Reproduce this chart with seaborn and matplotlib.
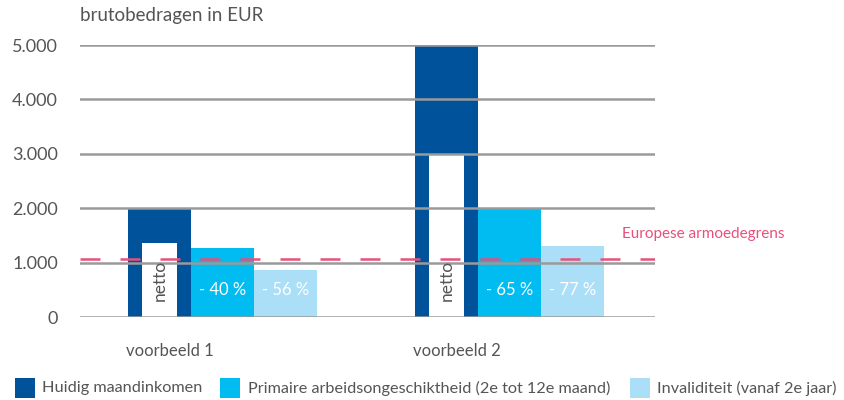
import pandas as pd
import matplotlib
matplotlib.use("Agg")
import matplotlib.pyplot as plt
from matplotlib.patches import Rectangle
import seaborn as sns

# Chart values
groups = ["voorbeeld 1", "voorbeeld 2"]
series = [
    "Huidig maandinkomen",
    "Primaire arbeidsongeschiktheid (2e tot 12e maand)",
    "Invaliditeit (vanaf 2e jaar)",
]
current_income = [2000, 5000]
primary_incap = [1270, 2000]
invalidity = [870, 1300]
netto = [1360, 2970]
primary_labels = ["- 40 %", "- 65 %"]
invalidity_labels = ["- 56 %", "- 77 %"]
poverty_line = 1070
yticks = [0, 1000, 2000, 3000, 4000, 5000]
ytick_labels = ["0", "1.000", "2.000", "3.000", "4.000", "5.000"]

colors = ["#00529b", "#00bcf0", "#aadff7"]
pink = "#e8507a"
grey_text = "#555555"

sns.set_style("white")
plt.rcParams["font.family"] = ["Lato", "DejaVu Sans"]

# Build a long table for seaborn
rows = []
for i, g in enumerate(groups):
    for s, vals in zip(series, [current_income, primary_incap, invalidity]):
        rows.append({"voorbeeld": g, "type": s, "bedrag": vals[i]})
df = pd.DataFrame(rows)

W, H = 845, 400
fig = plt.figure(figsize=(W / 100, H / 100), dpi=100)
ax = fig.add_axes([80 / W, 83 / H, 575 / W, 272 / H])

bar_w = 0.66
sns.barplot(data=df, x="voorbeeld", y="bedrag", hue="type", hue_order=series,
            palette=colors, width=bar_w, saturation=1, legend=False, ax=ax)
for p in ax.patches:
    p.set_edgecolor("none")

one = bar_w / 3
# white "netto" bars inside the current income bars
ax.bar([i - one for i in range(len(groups))], netto, width=0.122,
       color="white", edgecolor="none", zorder=1.5)
for i in range(len(groups)):
    ax.text(i - one, 680, "netto", rotation=90, ha="center", va="center",
            color=grey_text, fontsize=12.5, zorder=4)
    ax.text(i, 500, primary_labels[i], ha="center", va="center",
            color="white", fontsize=12, zorder=4)
    ax.text(i + one, 500, invalidity_labels[i], ha="center", va="center",
            color="white", fontsize=12, zorder=4)

# poverty line
ax.axhline(poverty_line, color=pink, lw=1.8, dashes=(8, 8), zorder=3.5)
ax.text(1.392, 1525, "Europese armoedegrens", color=pink, fontsize=11,
        ha="left", va="center", clip_on=False)

ax.set_xlim(-0.497, 1.507)
ax.set_ylim(0, 5000)
ax.set_yticks(yticks)
ax.set_yticklabels(ytick_labels, fontsize=13, color=grey_text)
ax.set_xticks([i - 0.185 for i in range(len(groups))])
ax.set_xticklabels(groups, fontsize=12, color=grey_text)
ax.tick_params(axis="y", length=0, pad=16)
ax.tick_params(axis="x", length=0, pad=19)
ax.set_xlabel("")
ax.set_ylabel("")
ax.yaxis.grid(True, color="#9a9a9a", lw=1.8)
ax.set_axisbelow(False)
sns.despine(ax=ax, left=True, bottom=True)

fig.text(80 / W, 1 - 16 / H, "brutobedragen in EUR", fontsize=13.5,
         color=grey_text, ha="left", va="center")

# legend drawn by hand to match the reference spacing
patch_x = [15, 220, 630]
text_x = [42, 248, 657]
for c, label, px, tx in zip(colors, series, patch_x, text_x):
    fig.patches.append(Rectangle((px / W, 2 / H), 20 / W, 20 / H,
                                 transform=fig.transFigure, facecolor=c,
                                 edgecolor="none"))
    fig.text(tx / W, 12 / H, label, fontsize=11.7, color=grey_text,
             ha="left", va="center")

fig.savefig("out.png", dpi=100)
